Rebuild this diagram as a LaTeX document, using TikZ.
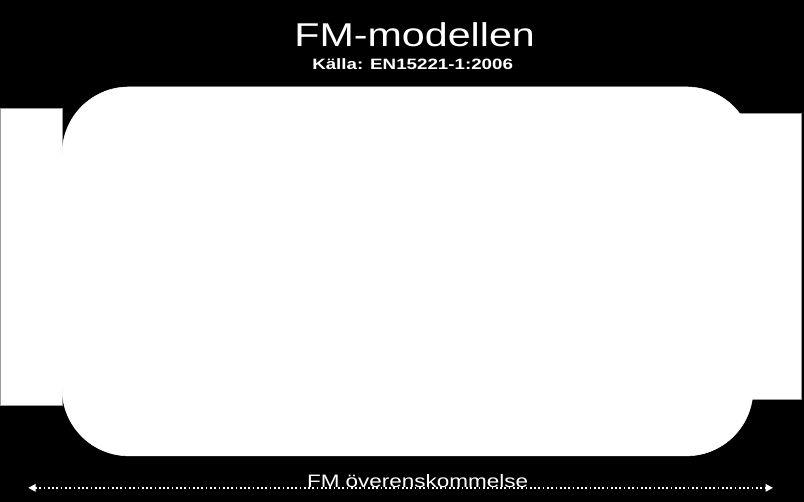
\documentclass[tikz,border=0pt]{standalone}
\usepackage{fontspec}
\setmainfont{Liberation Sans}
\usepackage{graphicx}
\usetikzlibrary{arrows.meta}

\newlength{\du}
\setlength{\du}{0.75pt}
\newcommand{\widetext}[1]{\scalebox{1.25}[1]{#1}}

\tikzset{
  fmlabel/.style={anchor=base, inner sep=0pt, text=white},
  fmpanel/.style={fill=white, draw=dialinecolor!40, line width=0.4pt},
}

\begin{document}
\begin{tikzpicture}
\pgftransformxscale{1.000000}
\pgftransformyscale{-1.000000}
\definecolor{dialinecolor}{rgb}{0.000000, 0.000000, 0.000000}
\pgfsetstrokecolor{dialinecolor}
% background
\fill[dialinecolor] (0\du,0\du) rectangle (804\du,502\du);
% side panels
\filldraw[fmpanel] (0\du,108\du) rectangle (62\du,405\du);
\filldraw[fmpanel] (730\du,113\du) rectangle (801\du,399\du);
% main panel
\filldraw[fmpanel, draw=white, rounded corners=50pt] (62\du,87\du) rectangle (753\du,456\du);
% setfont left to latex
\node[fmlabel, font=\fontsize{24.75pt}{30pt}\selectfont] (title) at (414.5\du,47\du){\widetext{FM-modellen}};
% setfont left to latex
\node[fmlabel, font=\fontsize{11.25pt}{14pt}\selectfont\bfseries] (source) at (412.5\du,70\du){\widetext{Källa: EN15221-1:2006}};
% agreement axis
\coordinate (agreeL) at (28\du,488\du);
\coordinate (agreeR) at (773\du,488\du);
\draw[white, line width=1.3pt, dash pattern=on 1.3pt off 1.9pt,
  {Triangle[length=5.5pt,width=5.5pt]}-{Triangle[length=5.5pt,width=5.5pt]}] (agreeL) -- (agreeR);
% setfont left to latex
\node[fmlabel, font=\fontsize{13.5pt}{16pt}\selectfont] (agree) at (417.5\du,488\du){\widetext{FM överenskommelse}};
\end{tikzpicture}
\end{document}
